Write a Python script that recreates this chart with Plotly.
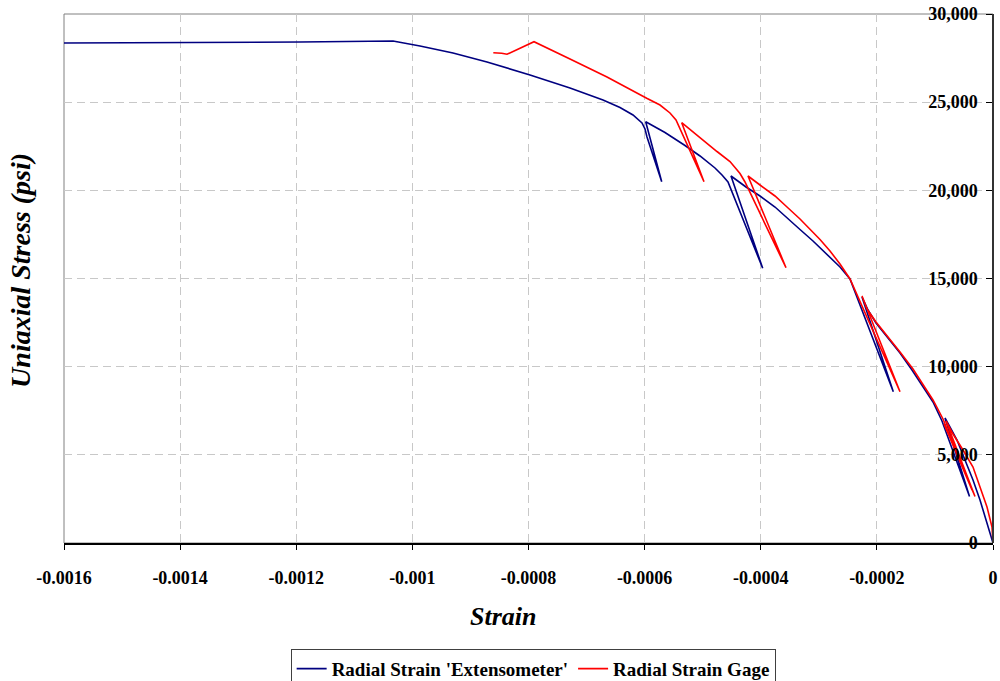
import plotly.graph_objects as go

# ---- data (strain, psi) ----
ext_strain = [0, -1.033e-5, -2.239e-5, -3.445e-5, -4.822e-5, -6.200e-5, -7.234e-5, -8.267e-5,
              -4.047e-5, -8.784e-5,
              -1.0334e-4, -1.2228e-4, -1.3950e-4, -1.6017e-4, -1.8084e-4, -2.0151e-4, -2.1528e-4,
              -2.2562e-4,
              -1.7171e-4, -2.3079e-4,
              -2.4629e-4, -2.6351e-4, -2.8762e-4, -3.1001e-4, -3.3240e-4, -3.5479e-4, -3.7546e-4,
              -4.0129e-4, -4.2540e-4, -4.5124e-4,
              -3.9664e-4, -4.5640e-4,
              -4.6674e-4, -4.7879e-4, -5.0463e-4, -5.3046e-4, -5.6491e-4, -5.9815e-4,
              -5.7059e-4, -5.9591e-4,
              -5.9935e-4, -6.0452e-4, -6.2002e-4, -6.4241e-4, -6.7169e-4, -7.2853e-4, -7.9742e-4,
              -8.7148e-4, -9.3003e-4, -9.8687e-4, -1.03337e-3, -1.19354e-3, -1.4e-3, -1.62e-3]
ext_stress = [0, 1134, 2439, 3573, 4707, 5841, 6465, 7089,
              2637, 6919,
              7996, 8960, 9811, 10775, 11626, 12476, 13214,
              13951,
              8580, 13724,
              14972, 15652, 16446, 17127, 17779, 18431, 19055,
              19679, 20189, 20813,
              15579, 20473,
              20870, 21267, 21947, 22543, 23280, 23892,
              20490, 23025,
              23478, 23819, 24272, 24698, 25123, 25803, 26541,
              27278, 27788, 28185, 28469, 28412, 28385, 28350]

gage_strain = [0, -1.72e-6, -1.033e-5, -2.239e-5, -3.445e-5, -5.167e-5, -6.889e-5, -8.095e-5,
               -3.100e-5, -8.439e-5, -3.617e-5, -8.611e-5,
               -1.0334e-4, -1.2228e-4, -1.3778e-4, -1.6017e-4, -1.8084e-4, -2.0151e-4, -2.1701e-4,
               -2.2562e-4,
               -1.6017e-4, -2.3079e-4,
               -2.4629e-4, -2.6351e-4, -2.8073e-4, -2.9795e-4, -3.3240e-4, -3.5479e-4, -3.7546e-4,
               -4.0129e-4, -4.2196e-4,
               -3.5651e-4, -4.2713e-4,
               -4.3574e-4, -4.4435e-4, -4.5296e-4, -4.7535e-4, -5.0463e-4, -5.2185e-4, -5.3615e-4,
               -4.9774e-4, -5.3391e-4,
               -5.4597e-4, -5.5630e-4, -5.7352e-4, -5.9643e-4, -6.6480e-4, -7.2853e-4, -7.9053e-4,
               -8.3703e-4, -8.4616e-4, -8.6063e-4]
gage_stress = [0, 907, 2042, 3233, 4310, 5274, 6181, 6919,
               2637, 6749, 3006, 7032,
               8110, 9074, 9868, 10832, 11682, 12533, 13270,
               14008,
               8580, 13781,
               14972, 15822, 16559, 17211, 18374, 19055, 19679,
               20302, 20813,
               15613, 20473,
               20955, 21323, 21635, 22202, 22996, 23450, 23836,
               20490, 23081,
               23989, 24386, 24839, 25219, 26427, 27448, 28429,
               27715, 27771, 27805]

x_tickvals = [-0.0016, -0.0014, -0.0012, -0.001, -0.0008, -0.0006, -0.0004, -0.0002, 0]
x_ticktext = ["-0.0016", "-0.0014", "-0.0012", "-0.001", "-0.0008", "-0.0006", "-0.0004", "-0.0002", "0"]
y_tickvals = [0, 5000, 10000, 15000, 20000, 25000, 30000]
y_ticktext = ["0", "5,000", "10,000", "15,000", "20,000", "25,000", "30,000"]

FONT = "Liberation Serif"

fig = go.Figure()
fig.add_trace(go.Scatter(x=ext_strain, y=ext_stress, mode="lines",
                         name="Radial Strain 'Extensometer'",
                         line=dict(color="#000080", width=1.6)))
fig.add_trace(go.Scatter(x=gage_strain, y=gage_stress, mode="lines",
                         name="Radial Strain Gage",
                         line=dict(color="#ff0000", width=1.6)))

fig.update_layout(
    width=1000, height=681,
    margin=dict(l=64, r=7, t=14, b=138, autoexpand=False),
    paper_bgcolor="white", plot_bgcolor="white",
    font=dict(family=FONT, color="black", size=16),
    showlegend=True,
    legend=dict(orientation="h", x=0.505, xanchor="center", y=-0.2, yanchor="top",
                bordercolor="#404040", borderwidth=1,
                font=dict(family=FONT, size=19, color="black", weight="bold"),
                itemwidth=30),
    shapes=[dict(type="rect", xref="paper", yref="paper", x0=0, x1=1, y0=0, y1=1,
                 line=dict(color="#808080", width=1), layer="below")],
    annotations=[
        dict(text="<b><i>Strain</i></b>", xref="paper", yref="paper",
             x=0.4726, y=-0.138, xanchor="center", yanchor="middle",
             showarrow=False, font=dict(family=FONT, size=26, color="black")),
        dict(text="<b><i>Uniaxial Stress (psi)</i></b>", xref="paper", yref="paper",
             x=-0.047, y=0.515, xanchor="center", yanchor="middle", textangle=-90,
             showarrow=False, font=dict(family=FONT, size=28, color="black")),
    ],
)

fig.update_xaxes(range=[-0.0016, 0], tickvals=x_tickvals, ticktext=x_ticktext,
                 ticks="outside", ticklen=5, tickcolor="black",
                 showline=True, linecolor="black", linewidth=1.5,
                 showgrid=True, gridcolor="#c8c8c8", griddash="8px,5px", gridwidth=1,
                 zeroline=False, ticklabelstandoff=13,
                 tickfont=dict(family=FONT, size=18, color="black", weight="bold"))
fig.update_yaxes(range=[0, 30000], tickvals=y_tickvals, ticktext=y_ticktext,
                 anchor="free", position=1, side="left",
                 ticks="outside", ticklen=6, tickcolor="black",
                 showline=True, linecolor="#333333", linewidth=1.5,
                 showgrid=True, gridcolor="#c8c8c8", griddash="8px,5px", gridwidth=1,
                 zeroline=False, ticklabelstandoff=5,
                 tickfont=dict(family=FONT, size=18, color="black", weight="bold"))

fig.write_html("out.html")
